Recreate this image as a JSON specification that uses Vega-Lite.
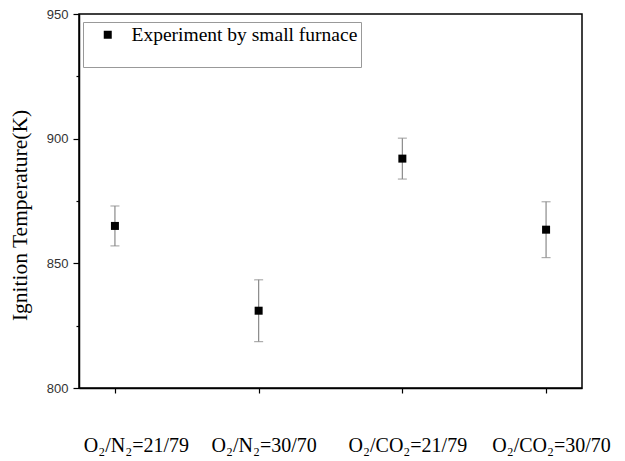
{
  "$schema": "https://vega.github.io/schema/vega-lite/v6.json",
  "autosize": {"type": "none"},
  "width": 503,
  "height": 374,
  "padding": {"left": 79, "top": 14, "right": 43, "bottom": 73},
  "background": "white",
  "config": {
    "view": {"stroke": "black", "strokeWidth": 1.5},
    "axis": {"grid": false, "domainColor": "black", "domainWidth": 1.5, "tickColor": "black", "tickWidth": 1.2}
  },
  "data": {
    "values": [
      {"condition": "O₂/N₂=21/79", "temp": 865, "err": 8, "series": "Experiment by small furnace"},
      {"condition": "O₂/N₂=30/70", "temp": 831, "err": 12.4, "series": "Experiment by small furnace"},
      {"condition": "O₂/CO₂=21/79", "temp": 892, "err": 8.2, "series": "Experiment by small furnace"},
      {"condition": "O₂/CO₂=30/70", "temp": 863.5, "err": 11.2, "series": "Experiment by small furnace"}
    ]
  },
  "encoding": {
    "x": {
      "field": "condition",
      "type": "nominal",
      "sort": null,
      "scale": {"type": "point", "padding": 0.25},
      "axis": {
        "title": null,
        "labelAngle": 0,
        "labelFont": "Liberation Serif",
        "labelFontSize": 20,
        "labelColor": "black",
        "labelPadding": 42,
        "tickSize": 5,
        "labelOverlap": false,
        "labelFlush": false,
        "labelOffset": {"condition": {"test": "datum.value == 'O₂/N₂=21/79'", "value": 21}, "value": 5}
      }
    },
    "y": {
      "field": "temp",
      "type": "quantitative",
      "scale": {"domain": [800, 950], "nice": false, "zero": false},
      "axis": {
        "title": "Ignition Temperature(K)",
        "titleFont": "Liberation Serif",
        "titleFontSize": 21.5,
        "titleFontWeight": "normal",
        "titleColor": "black",
        "titlePadding": 15,
        "titleY": 201,
        "values": [800, 825, 850, 875, 900, 925, 950],
        "labelExpr": "datum.value % 50 == 0 ? datum.label : ''",
        "labelFont": "Liberation Sans",
        "labelFontSize": 13,
        "labelColor": "#333333",
        "labelPadding": 5,
        "tickSize": {"condition": {"test": "datum.value % 50 == 0", "value": 6}, "value": 3}
      }
    }
  },
  "layer": [
    {
      "mark": {"type": "errorbar", "color": "#8a8a8a", "thickness": 1.2, "ticks": {"size": 9, "thickness": 1.2, "color": "#8a8a8a"}},
      "encoding": {
        "yError": {"field": "err"}
      }
    },
    {
      "mark": {"type": "point", "shape": "square", "filled": true, "color": "black", "size": 64, "opacity": 1},
      "encoding": {
        "shape": {
          "field": "series",
          "type": "nominal",
          "scale": {"range": ["square"]},
          "legend": {
            "orient": "none",
            "legendX": 4,
            "legendY": 8,
            "title": "\u00a0",
            "titleOrient": "bottom",
            "titleFontSize": 14,
            "titlePadding": 6,
            "padding": 3,
            "strokeColor": "#999999",
            "fillColor": "white",
            "symbolType": "square",
            "symbolSize": 64,
            "symbolFillColor": "black",
            "symbolStrokeColor": "black",
            "symbolOffset": 12,
            "labelOffset": 14,
            "labelFont": "Liberation Serif",
            "labelFontSize": 19.5,
            "labelColor": "black",
            "labelLimit": 400
          }
        }
      }
    }
  ]
}
